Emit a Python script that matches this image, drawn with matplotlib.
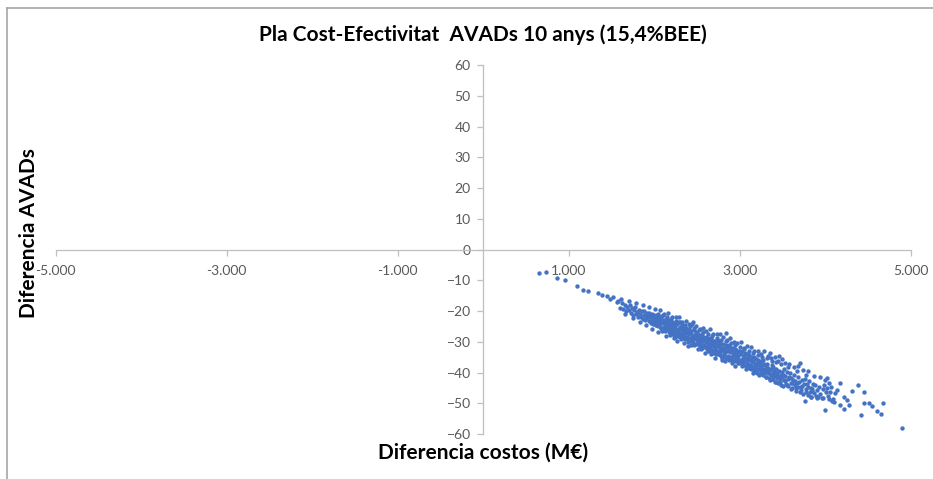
import matplotlib
matplotlib.use('Agg')
import matplotlib.pyplot as plt
from matplotlib.lines import Line2D
from matplotlib.ticker import FuncFormatter

# simulated runs: cost difference (M EUR) vs. DALY difference
cost_diff = [
    650, 740, 860, 957, 1093, 1163, 1229, 1346, 1386, 1444, 1483, 1522, 1561,
    1580, 1605, 1620, 1640, 1655, 1670, 1685, 1700, 1712, 1725, 1738, 1750, 1762, 1775,
    1788, 1800, 1810, 1822, 1835, 1846, 1858, 1866, 1875, 1884, 1893, 1902, 1910, 1918,
    1926, 1934, 1942, 1950, 1958, 1965, 1972, 1980, 1986, 1992, 1997, 1999,
    2005, 2012, 2018, 2025, 2031, 2038, 2044, 2050, 2057, 2063, 2070, 2076, 2083, 2089,
    2096, 2102, 2108, 2115, 2121, 2128, 2134, 2140, 2147, 2153, 2160, 2166, 2172, 2179,
    2185, 2192, 2198, 2204, 2211, 2217, 2224, 2230, 2236, 2243, 2249, 2256, 2262, 2268,
    2275, 2281, 2288, 2294, 2300, 2307, 2313, 2320, 2326, 2332, 2339, 2345, 2352, 2358,
    2364, 2371, 2377, 2384, 2390, 2396, 2403, 2409, 2416, 2422, 2428, 2435, 2441, 2446,
    2448, 2454, 2460, 2467, 2473, 2480, 2486, 2493, 2499, 2243,
    2504, 2510, 2516, 2522, 2528, 2534, 2540, 2546, 2552, 2558, 2564, 2570, 2576, 2582,
    2588, 2594, 2600, 2606, 2612, 2618, 2624, 2630, 2636, 2642, 2648, 2654, 2660, 2666,
    2672, 2678, 2684, 2690, 2696, 2702, 2708, 2714, 2720, 2726, 2732, 2738, 2744, 2750,
    2756, 2762, 2768, 2774, 2780, 2786, 2792, 2798, 2804, 2810, 2816, 2822, 2828, 2834,
    2840, 2846, 2852, 2858, 2864, 2870, 2876, 2882, 2888, 2894, 2900, 2906, 2912, 2918,
    2924, 2930, 2936, 2942, 2948, 2954, 2960, 2966, 2972, 2978, 2984, 2990, 2996, 2840, 2789,
    3003, 3010, 3016, 3023, 3030, 3036, 3043, 3049, 3056, 3062, 3069, 3075, 3082, 3088,
    3095, 3101, 3108, 3114, 3121, 3127, 3134, 3140, 3147, 3153, 3160, 3166, 3173, 3179,
    3186, 3192, 3199, 3205, 3212, 3218, 3225, 3231, 3238, 3244, 3251, 3257, 3264, 3270,
    3277, 3283, 3290, 3296, 3303, 3309, 3316, 3322, 3329, 3335, 3342, 3348, 3355, 3361,
    3368, 3374, 3381, 3387, 3394, 3400, 3407, 3413, 3420, 3426, 3433, 3439, 3446, 3452,
    3459, 3465, 3472, 3478, 3485, 3491, 3498,
    3506, 3515, 3524, 3533, 3542, 3551, 3560, 3569, 3578, 3587, 3596, 3605, 3614, 3623,
    3632, 3641, 3650, 3659, 3668, 3677, 3686, 3695, 3705, 3714, 3723, 3732, 3741, 3750,
    3759, 3764, 3776, 3785, 3794, 3803, 3812, 3821, 3830, 3839, 3848, 3857, 3866, 3881,
    3893, 3905, 3920, 3926, 3944, 3959, 3972, 3986, 3998, 3995,
    4009, 4017, 4025, 4035, 4048, 4060, 4070, 4080, 4095, 4115, 4134, 4172, 4173, 4220,
    4223, 4251, 4282, 4317, 4387, 4415, 4454, 4458, 4512, 4551, 4610, 4649, 4672, 4902,
]
daly_diff = [
    -7.6, -7.4, -9.4, -9.9, -11.9, -13.2, -13.4, -14.2, -14.8, -15.1, -16.2, -15.5, -17.0,
    -16.8, -18.9, -17.5, -19.3, -18.2, -20.1, -18.6, -19.8, -17.9, -20.6, -19.1, -21.2, -19.7, -18.8,
    -21.0, -20.3, -22.1, -19.6, -20.9, -21.8, -20.1, -22.6, -21.3, -19.9, -23.0, -21.7, -20.5, -22.4,
    -21.1, -23.4, -20.8, -22.0, -23.8, -21.5, -22.9, -20.9, -24.1, -22.3, -21.4, -23.2,
    -21.8, -23.9, -22.6, -24.7, -21.2, -23.1, -22.4, -25.0, -23.6, -21.9, -24.3, -22.8, -25.6, -23.4,
    -21.7, -24.0, -22.9, -25.3, -23.8, -26.4, -24.4, -22.6, -25.1, -23.7, -26.0, -24.6, -22.9, -25.7,
    -24.1, -27.0, -25.2, -23.5, -26.3, -24.7, -27.4, -25.5, -23.9, -26.8, -25.0, -28.1, -26.1, -24.3,
    -27.2, -25.7, -23.6, -26.6, -28.4, -25.2, -27.5, -26.0, -24.5, -28.2, -26.7, -25.1, -27.9, -26.3,
    -29.2, -27.1, -25.6, -28.5, -26.9, -30.0, -27.6, -25.8, -28.8, -27.2, -29.6, -26.4, -28.3, -24.2,
    -30.4, -27.7, -26.1, -29.1, -27.9, -30.7, -28.6, -26.9, -29.4, -28.6,
    -27.3, -29.9, -28.4, -30.8, -27.8, -29.2, -31.4, -28.9, -30.1, -27.6, -32.0, -29.7, -28.3, -30.9,
    -29.1, -31.8, -30.2, -28.6, -32.4, -29.8, -31.1, -28.9, -30.6, -33.0, -29.5, -31.7, -30.3, -28.8,
    -32.6, -30.9, -29.6, -33.5, -31.3, -29.9, -32.1, -30.5, -34.0, -31.8, -29.4, -32.9, -30.8, -33.6,
    -31.5, -29.9, -34.3, -32.2, -30.6, -33.1, -31.9, -35.0, -32.6, -30.8, -34.1, -32.0, -33.4, -31.2,
    -35.3, -33.0, -31.7, -34.6, -32.4, -30.9, -35.7, -33.3, -31.8, -34.9, -33.1, -36.0, -32.6, -34.4,
    -31.9, -35.5, -33.7, -32.3, -36.3, -34.2, -32.7, -35.1, -33.5, -37.0, -34.6, -32.9, -35.8, -27.2, -35.9,
    -33.2, -35.9, -34.1, -36.8, -32.9, -35.2, -37.4, -34.6, -36.1, -33.8, -37.9, -35.5, -34.0, -36.9,
    -35.1, -38.2, -36.0, -34.4, -37.5, -35.8, -39.0, -36.6, -34.9, -38.1, -36.4, -35.0, -39.3, -37.2,
    -35.6, -38.4, -36.9, -40.0, -37.7, -35.9, -38.9, -37.0, -40.4, -38.2, -36.4, -39.5, -37.6, -36.0,
    -40.9, -38.7, -37.1, -39.9, -38.0, -41.3, -39.1, -37.3, -40.2, -38.5, -41.8, -39.6, -33.6, -40.8,
    -38.9, -37.5, -42.2, -40.0, -38.3, -41.1, -39.4, -43.0, -40.5, -38.8, -41.9, -40.1, -43.4, -41.2,
    -34.5, -39.6, -42.5, -40.7, -44.0, -41.6, -39.9,
    -40.8, -38.9, -42.6, -41.0, -43.7, -39.8, -42.1, -44.5, -41.4, -40.2, -43.3, -41.7, -45.1, -42.5,
    -40.9, -44.0, -42.8, -46.0, -43.5, -41.6, -44.8, -43.1, -36.8, -45.6, -42.4, -44.3, -47.0, -43.8,
    -42.2, -49.2, -45.2, -43.6, -47.4, -44.7, -42.9, -46.3, -44.9, -48.0, -45.4, -43.7, -46.8, -44.1,
    -47.6, -45.8, -48.1, -44.6, -46.9, -48.4, -45.3, -44.1, -42.4, -52.2,
    -46.2, -41.9, -45.0, -47.5, -48.7, -46.3, -44.6, -49.2, -48.7, -46.8, -45.7, -43.5, -50.6, -52.0,
    -48.1, -48.9, -50.5, -46.0, -44.2, -53.8, -46.2, -50.0, -49.8, -50.8, -52.4, -53.5, -49.8, -58.1,
]

# runs along the upper and lower edges of the cloud
cost_edge = [
    1615, 1660, 1705, 1750, 1790, 1830, 1870, 1905, 1940, 1975, 2010, 2040, 2065, 2090,
    2115, 2140, 2160, 2185, 2205, 2230, 2250, 2270, 2290, 2310, 2330, 2350, 2370, 2390,
    2410, 2430, 2450, 2470, 2490, 2510, 2530, 2550, 2570, 2590, 2610, 2630, 2650, 2670,
    2690, 2710, 2730, 2750, 2770, 2790, 2810, 2830, 2850, 2870, 2890, 2910, 2930, 2950,
    2970, 2990, 3010, 3030, 3050, 3070, 3090, 3110, 3130, 3150, 3170, 3190, 3210, 3230,
    3250, 3270, 3290, 3310, 3330, 3350, 3370, 3390, 3410, 3430, 3450, 3470, 3490, 3510,
    3530, 3555, 3580, 3605, 3630, 3655, 3680, 3710, 3740, 3770, 3800, 3835, 3870, 3905,
    3940, 3975, 4040, 4105,
]
daly_edge = [
    -16.1, -21.0, -16.8, -22.4, -17.5, -23.6, -18.1, -24.6, -18.7, -25.7, -19.3, -26.8, -19.8, -26.4,
    -21.1, -28.1, -20.5, -27.9, -22.0, -28.9, -22.0, -29.8, -21.9, -29.2, -23.5, -30.4, -23.2, -31.4,
    -24.2, -30.9, -23.7, -30.9, -24.8, -32.5, -25.7, -32.4, -25.4, -33.6, -26.4, -33.0, -25.9, -34.0,
    -27.6, -35.2, -27.4, -34.1, -27.5, -35.3, -28.6, -36.3, -29.4, -35.9, -28.9, -36.9, -30.2, -37.8,
    -30.3, -37.0, -30.1, -37.9, -31.9, -38.9, -31.4, -38.6, -31.6, -40.2, -32.9, -39.9, -32.9, -40.7,
    -34.0, -40.3, -33.1, -41.5, -34.5, -42.3, -35.3, -42.0, -35.0, -43.1, -36.4, -43.0, -35.7, -44.3,
    -36.9, -44.2, -37.2, -45.2, -38.3, -45.1, -38.0, -46.2, -39.2, -46.3, -39.6, -47.9, -41.1, -48.3,
    -41.4, -48.4, -43.4, -49.7,
]

# extra runs inside the dense part of the band
cost_mid = [
    2020, 2045, 2075, 2100, 2125, 2150, 2175, 2200, 2225, 2255, 2280, 2305, 2335, 2360,
    2385, 2415, 2440, 2465, 2495, 2520, 2545, 2575, 2600, 2625, 2655, 2680, 2705, 2735,
    2760, 2785, 2815, 2840, 2865, 2895, 2920, 2945, 2975, 3000, 3025, 3055, 3080, 3105,
    3135, 3160, 3185, 3215, 3240, 3265, 3295, 3320, 3345, 3375, 3400, 3425, 3455, 3480,
    3520, 3565, 3615, 3665, 3720, 3780, 3850,
]
daly_mid = [
    -24.6, -21.0, -25.5, -21.4, -26.2, -22.0, -26.9, -22.6, -27.4, -23.1, -28.0, -23.6, -28.7, -24.4,
    -29.2, -25.0, -29.9, -25.5, -30.6, -26.2, -31.1, -26.8, -31.7, -27.5, -32.4, -28.0, -32.9, -28.7,
    -33.6, -29.3, -34.2, -29.9, -34.8, -30.5, -35.4, -31.1, -36.0, -31.8, -36.6, -32.3, -37.3, -33.0,
    -37.9, -33.6, -38.5, -34.2, -39.1, -34.8, -39.7, -35.4, -40.3, -36.1, -40.9, -36.7, -41.6, -37.3,
    -42.3, -38.3, -43.4, -39.5, -44.6, -40.8, -46.0,
]

x_ticks = [-5000, -3000, -1000, 1000, 3000, 5000]
y_ticks = [-60, -50, -40, -30, -20, -10, 0, 10, 20, 30, 40, 50, 60]

FONT = ['Lato', 'DejaVu Sans']
GRAY_AXIS = '#BFBFBF'
GRAY_TEXT = '#595959'
BLUE = '#4472C4'


def thousands(v, pos):
    return f'{int(v):,}'.replace(',', '.')


def plot_scatter():
    plt.rcParams['font.family'] = FONT
    fig = plt.figure(figsize=(9.33, 4.79), dpi=100)
    ax = fig.add_axes([0.0597, 0.0939, 0.9164, 0.7704])

    for xs, ys in ((cost_diff, daly_diff), (cost_edge, daly_edge), (cost_mid, daly_mid)):
        ax.scatter(xs, ys, s=10, color=BLUE, linewidths=0, zorder=3)

    ax.set_xlim(-5000, 5000)
    ax.set_ylim(-60, 60)
    ax.set_xticks(x_ticks)
    ax.set_yticks(y_ticks)
    ax.xaxis.set_major_formatter(FuncFormatter(thousands))

    # axes cross at the origin, Excel style
    ax.spines['left'].set_position(('data', 0))
    ax.spines['bottom'].set_position(('data', 0))
    for side in ('top', 'right'):
        ax.spines[side].set_visible(False)
    for side in ('left', 'bottom'):
        ax.spines[side].set_color(GRAY_AXIS)
        ax.spines[side].set_linewidth(0.9)
    ax.tick_params(axis='both', direction='out', length=4, width=0.9,
                   color=GRAY_AXIS, labelcolor=GRAY_TEXT, labelsize=10)
    ax.tick_params(axis='x', pad=7)
    ax.tick_params(axis='y', pad=5)
    ax.set_facecolor('none')

    fig.text(0.518, 0.927, 'Pla Cost-Efectivitat  AVADs 10 anys (15,4%BEE)',
             ha='center', va='center', fontsize=15, fontweight='bold')
    fig.text(0.518, 0.056, 'Diferencia costos (M€)', ha='center', va='center',
             fontsize=15, fontweight='bold')
    fig.text(0.031, 0.513, 'Diferencia AVADs', ha='center', va='center',
             rotation=90, fontsize=15, fontweight='bold')

    # chart frame (only top and left edges show in the original)
    top_y = 1 - 8 / 479
    left_x = 7 / 933
    fig.add_artist(Line2D([left_x, 1], [top_y, top_y], color='#A6A6A6', lw=1.2,
                          transform=fig.transFigure))
    fig.add_artist(Line2D([left_x, left_x], [0, top_y], color='#A6A6A6', lw=1.2,
                          transform=fig.transFigure))

    fig.savefig('out.png', dpi=100)


if __name__ == '__main__':
    plot_scatter()
